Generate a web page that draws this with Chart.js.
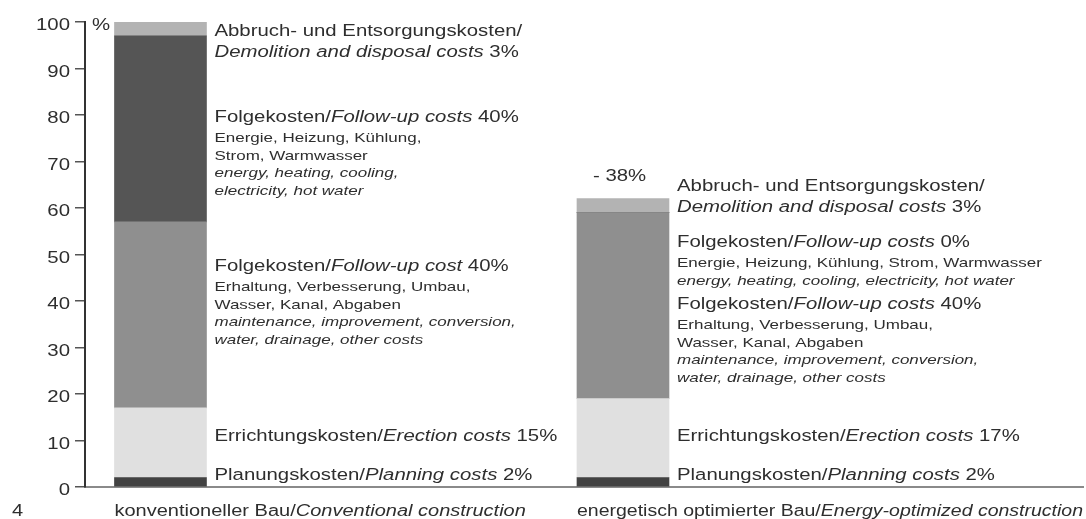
<!DOCTYPE html>
<html>
<head>
<meta charset="utf-8">
<script src="https://cdn.jsdelivr.net/npm/chart.js@4.4.1/dist/chart.umd.min.js"></script>
<style>
  html, body { margin: 0; background: #fff; }
  #wrap { width: 1086px; height: 519px; }
</style>
</head>
<body>
<div id="wrap"><canvas id="costChart"></canvas></div>
<script>
// text between * * is set in italics
const categories = ['konventioneller Bau/*Conventional construction*', 'energetisch optimierter Bau/*Energy-optimized construction*'];
const planning = [2, 2];
const erection = [15, 17];
const maintenance = [40, 40];
const energy = [40, 0];
const demolition = [3, 3];
const reduction = '- 38%';

const labelsConv = [
  ['Abbruch- und Entsorgungskosten/', '*Demolition and disposal costs* 3%'],
  ['Folgekosten/*Follow-up costs* 40%', 'Energie, Heizung, Kühlung,', 'Strom, Warmwasser', '*energy, heating, cooling,*', '*electricity, hot water*'],
  ['Folgekosten/*Follow-up cost* 40%', 'Erhaltung, Verbesserung, Umbau,', 'Wasser, Kanal, Abgaben', '*maintenance, improvement, conversion,*', '*water, drainage, other costs*'],
  ['Errichtungskosten/*Erection costs* 15%'],
  ['Planungskosten/*Planning costs* 2%']
];
const labelsOpt = [
  ['Abbruch- und Entsorgungskosten/', '*Demolition and disposal costs* 3%'],
  ['Folgekosten/*Follow-up costs* 0%', 'Energie, Heizung, Kühlung, Strom, Warmwasser', '*energy, heating, cooling, electricity, hot water*'],
  ['Folgekosten/*Follow-up costs* 40%', 'Erhaltung, Verbesserung, Umbau,', 'Wasser, Kanal, Abgaben', '*maintenance, improvement, conversion,*', '*water, drainage, other costs*'],
  ['Errichtungskosten/*Erection costs* 17%'],
  ['Planungskosten/*Planning costs* 2%']
];

const FONT = '"Liberation Sans", Arial, sans-serif';
const STRETCH = 1.25; // the printed type is wide
const BAR = 92;

// baseline of the first line of each label block, in axis units
const anchors = [
  [96.9, 78.6, 46.5, 9.85, 1.44],
  [63.6, 51.7, 38.3, 9.85, 1.44]
];

function drawRich(ctx, str, x, y, size, maxW) {
  const parts = str.split('*');
  const fonts = parts.map((p, i) => (i % 2 ? 'italic ' : '') + size + 'px ' + FONT);
  let total = 0;
  parts.forEach((p, i) => { ctx.font = fonts[i]; total += ctx.measureText(p).width; });
  let sx = STRETCH;
  if (maxW && total * sx > maxW) sx = maxW / total;
  ctx.save();
  ctx.translate(x, y);
  ctx.scale(sx, 1);
  let cx = 0;
  parts.forEach((p, i) => {
    ctx.font = fonts[i];
    ctx.fillText(p, cx, 0);
    cx += ctx.measureText(p).width;
  });
  ctx.restore();
}

const textPlugin = {
  id: 'sideText',
  afterDraw(chart) {
    const ctx = chart.ctx;
    const xs = chart.scales.x, ys = chart.scales.y;
    ctx.save();
    ctx.fillStyle = '#2e2e2e';
    ctx.textAlign = 'left';
    ctx.textBaseline = 'alphabetic';

    ys.ticks.forEach(t => {
      const s = String(t.value);
      ctx.font = '16.3px ' + FONT;
      const w = ctx.measureText(s).width * STRETCH;
      drawRich(ctx, s, 70 - w, ys.getPixelForValue(t.value) + 8.3, 16.3);
    });
    drawRich(ctx, '%', 92, ys.getPixelForValue(100) + 8.3, 16.3);
    drawRich(ctx, '4', 12, 516, 16);

    [labelsConv, labelsOpt].forEach((blocks, i) => {
      const left = xs.getPixelForValue(i) - BAR / 2;
      drawRich(ctx, categories[i], left, 516, 16, chart.chartArea.right - left);
      blocks.forEach((block, j) => {
        let y = ys.getPixelForValue(anchors[i][j]);
        block.forEach((line, k) => {
          const big = k === 0 || j === 0;
          if (k > 0) y += (big || k === 1) ? 20.5 : 17.5;
          drawRich(ctx, line, left + 100, y, big ? 16.3 : 13.6);
        });
      });
    });
    drawRich(ctx, reduction, xs.getPixelForValue(1) - BAR / 2 + 16, ys.getPixelForValue(65.9), 16.3);
    ctx.restore();
  }
};

function series(values) {
  return values.map((v, i) => ({ x: i, y: v }));
}

new Chart(document.getElementById('costChart'), {
  type: 'bar',
  data: {
    datasets: [
      { label: 'Planung', data: series(planning), backgroundColor: '#424242' },
      { label: 'Errichtung', data: series(erection), backgroundColor: '#e0e0e0' },
      { label: 'Erhaltung', data: series(maintenance), backgroundColor: '#8f8f8f' },
      { label: 'Energie', data: series(energy), backgroundColor: '#555555' },
      { label: 'Abbruch', data: series(demolition), backgroundColor: '#b3b3b3' }
    ]
  },
  options: {
    responsive: true,
    maintainAspectRatio: false,
    animation: false,
    barThickness: BAR,
    layout: { padding: { top: 22, right: 3, left: 0, bottom: 0 } },
    scales: {
      x: {
        type: 'linear',
        stacked: true,
        offset: false,
        min: -0.1632,
        max: 1.9946,
        ticks: { display: false },
        grid: { display: false, offset: false },
        border: { display: true, color: '#8a8a8a', width: 2 },
        afterFit(s) { s.height = 32; }
      },
      y: {
        stacked: true,
        min: 0,
        max: 100,
        ticks: { stepSize: 10, display: false },
        grid: { drawOnChartArea: false, drawTicks: true, tickLength: 10, color: '#555', lineWidth: 1.5 },
        border: { color: '#333', width: 2 },
        afterFit(s) { s.width = 85; }
      }
    },
    plugins: {
      legend: { display: false },
      tooltip: { enabled: false }
    }
  },
  plugins: [textPlugin]
});
</script>
</body>
</html>
